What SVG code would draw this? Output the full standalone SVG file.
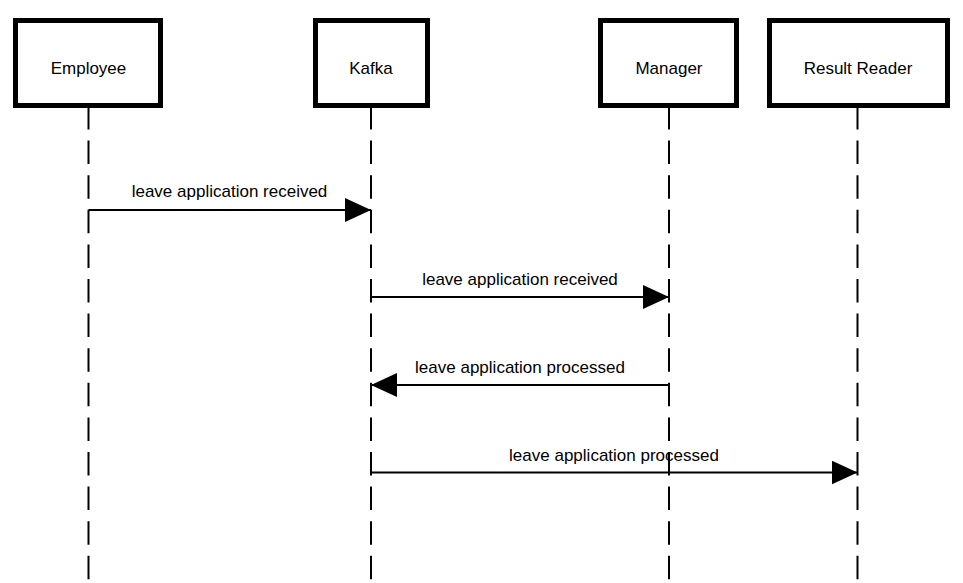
<svg xmlns="http://www.w3.org/2000/svg" width="963" height="583" viewBox="0 0 963 583">
<style>
.box{fill:#fff;stroke:#000;stroke-width:5}
.life{stroke:#000;stroke-width:2;stroke-dasharray:23.5 11.1;fill:none}
.msg{stroke:#000;stroke-width:2;fill:none}
text{font-family:"Liberation Sans",Arial,sans-serif;font-size:17px;fill:#000;text-anchor:middle}
</style>
<defs>
<marker id="ah" markerUnits="userSpaceOnUse" markerWidth="26" markerHeight="24" refX="26" refY="12" orient="auto">
<path d="M0,0 L26,12 L0,24 Z" fill="#000"/>
</marker>
</defs>
<g id="lifelines">
<line class="life" x1="88.5" y1="106" x2="88.5" y2="583"/>
<line class="life" x1="371" y1="106" x2="371" y2="583"/>
<line class="life" x1="669" y1="106" x2="669" y2="583"/>
<line class="life" x1="857.5" y1="106" x2="857.5" y2="583"/>
</g>
<g id="employee"><rect class="box" x="15.5" y="20.5" width="145" height="85"/><text x="88.5" y="74">Employee</text></g>
<g id="kafka"><rect class="box" x="315.5" y="20.5" width="112" height="85"/><text x="371" y="74">Kafka</text></g>
<g id="manager"><rect class="box" x="600.5" y="20.5" width="136" height="85"/><text x="669" y="74">Manager</text></g>
<g id="result-reader"><rect class="box" x="769.5" y="20.5" width="178" height="85"/><text x="858" y="74">Result Reader</text></g>
<g id="connectors">
<line class="msg" x1="88.5" y1="210" x2="371" y2="210" marker-end="url(#ah)"/>
<text x="229.5" y="197">leave application received</text>
<line class="msg" x1="371" y1="297" x2="669" y2="297" marker-end="url(#ah)"/>
<text x="520" y="285">leave application received</text>
<line class="msg" x1="669" y1="385" x2="371" y2="385" marker-end="url(#ah)"/>
<text x="520" y="373">leave application processed</text>
<line class="msg" x1="371" y1="472.5" x2="857.5" y2="472.5" marker-end="url(#ah)"/>
<text x="614" y="461">leave application processed</text>
</g>
</svg>
